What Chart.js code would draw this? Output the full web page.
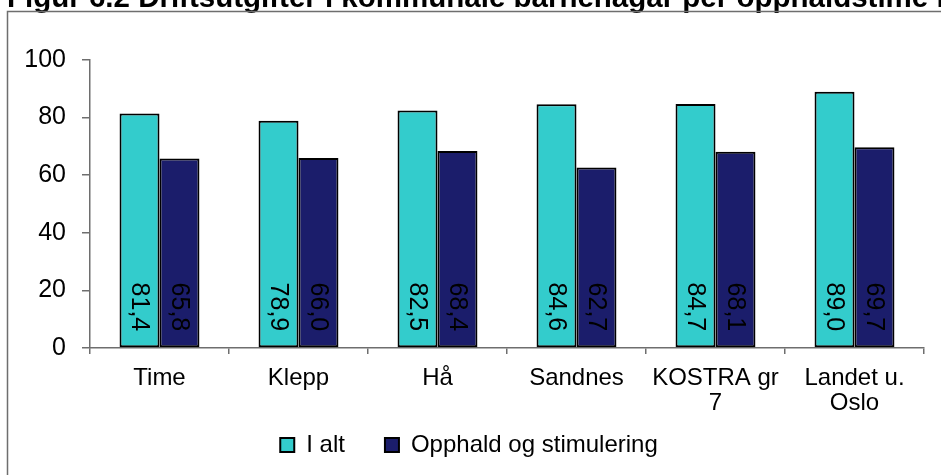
<!DOCTYPE html>
<html><head><meta charset="utf-8">
<script src="https://cdn.jsdelivr.net/npm/chart.js@4/dist/chart.umd.min.js"></script>
<style>html,body{margin:0;padding:0;background:#fff;overflow:hidden}#wrap{width:941px;height:475px;position:relative}</style>
</head><body><div id="wrap"><canvas id="c" width="941" height="475"></canvas></div>
<script>
const categories = ['Time', 'Klepp', 'Hå', 'Sandnes', ['KOSTRA gr', '7'], ['Landet u.', 'Oslo']];
const seriesNames = ['I alt', 'Opphald og stimulering'];
const iAlt = [81.4, 78.9, 82.5, 84.6, 84.7, 89.0];
const opphald = [65.8, 66.0, 68.4, 62.7, 68.1, 69.7];
const yTicks = [0, 20, 40, 60, 80, 100];
const titleText = 'Figur 6.2 Driftsutgifter i kommunale barnehagar per opphaldstime i';

const FONT = "'Liberation Sans', Arial, sans-serif";
const fmt = v => v.toFixed(1).replace('.', ',');

const framePlugin = {
  id: 'frame',
  beforeDraw(chart) {
    const ctx = chart.ctx;
    ctx.save();
    ctx.fillStyle = '#fff';
    ctx.fillRect(0, 0, chart.width, chart.height);
    ctx.fillStyle = '#000';
    ctx.font = "bold 29.5px " + FONT;
    ctx.textBaseline = 'alphabetic';
    ctx.textAlign = 'left';
    ctx.fillText(titleText, 7, 7);
    ctx.strokeStyle = '#6e6e6e';
    ctx.lineWidth = 1.5;
    ctx.beginPath();
    ctx.moveTo(7.5, chart.height + 5);
    ctx.lineTo(7.5, 11.5);
    ctx.lineTo(chart.width + 5, 11.5);
    ctx.stroke();
    ctx.restore();
  }
};

const legendShift = {
  id: 'legendShift',
  afterLayout(chart) {
    const lg = chart.legend;
    if (!lg) return;
    lg.top = 393;
    lg.height = 74;
    lg.bottom = 467;
    lg.left += 7;
    lg.right += 7;
  }
};

const valueLabels = {
  id: 'valueLabels',
  afterDatasetsDraw(chart) {
    const ctx = chart.ctx;
    ctx.save();
    ctx.fillStyle = '#000';
    ctx.font = "25px " + FONT;
    ctx.textAlign = 'right';
    ctx.textBaseline = 'middle';
    chart.data.datasets.forEach((ds, i) => {
      const meta = chart.getDatasetMeta(i);
      meta.data.forEach((bar, j) => {
        ctx.save();
        ctx.translate(bar.x - 1, bar.base - 16);
        ctx.rotate(Math.PI / 2);
        ctx.fillText(fmt(ds.data[j]), 0, 0);
        ctx.restore();
      });
    });
    ctx.restore();
  }
};

new Chart(document.getElementById('c'), {
  type: 'bar',
  data: {
    labels: categories,
    datasets: [
      { label: seriesNames[0], data: iAlt, backgroundColor: '#33CCCC', borderColor: '#000', borderWidth: 2, borderSkipped: false },
      { label: seriesNames[1], data: opphald, backgroundColor: '#1B1D6B', borderColor: '#000', borderWidth: 2, borderSkipped: false }
    ]
  },
  options: {
    responsive: false,
    animation: false,
    devicePixelRatio: 1,
    layout: { padding: { top: 60, right: 17, bottom: 0, left: 0 } },
    datasets: { bar: { categoryPercentage: 0.575, barPercentage: 1.0 } },
    plugins: {
      title: { display: false },
      tooltip: { enabled: false },
      legend: {
        display: true,
        position: 'bottom',
        maxHeight: 55,
        labels: {
          color: '#000',
          font: { family: FONT, size: 24 },
          boxWidth: 14,
          boxHeight: 14,
          padding: 40,
          generateLabels(chart) {
            return chart.data.datasets.map((ds, i) => ({
              text: ds.label, fillStyle: ds.backgroundColor, strokeStyle: '#000', lineWidth: 2, datasetIndex: i, hidden: false
            }));
          }
        }
      }
    },
    scales: {
      x: {
        afterFit(scale) { scale.height = 72; },
        border: { display: true, color: '#6e6e6e', width: 1.5 },
        grid: { display: true, drawOnChartArea: false, offset: true, tickLength: 6, color: '#6e6e6e', lineWidth: 1.5 },
        ticks: { color: '#000', font: { family: FONT, size: 24, lineHeight: 1.05 }, padding: 12, maxRotation: 0, autoSkip: false }
      },
      y: {
        min: 0, max: 100,
        afterFit(scale) { scale.width = 90; },
        afterBuildTicks(scale) { scale.ticks = yTicks.map(v => ({ value: v })); },
        border: { display: true, color: '#6e6e6e', width: 1.5 },
        grid: { display: true, drawOnChartArea: false, tickLength: 8, color: '#6e6e6e', lineWidth: 1.5 },
        ticks: { color: '#000', font: { family: FONT, size: 25 }, padding: 16 }
      }
    }
  },
  plugins: [framePlugin, legendShift, valueLabels]
});
</script>
</body></html>
